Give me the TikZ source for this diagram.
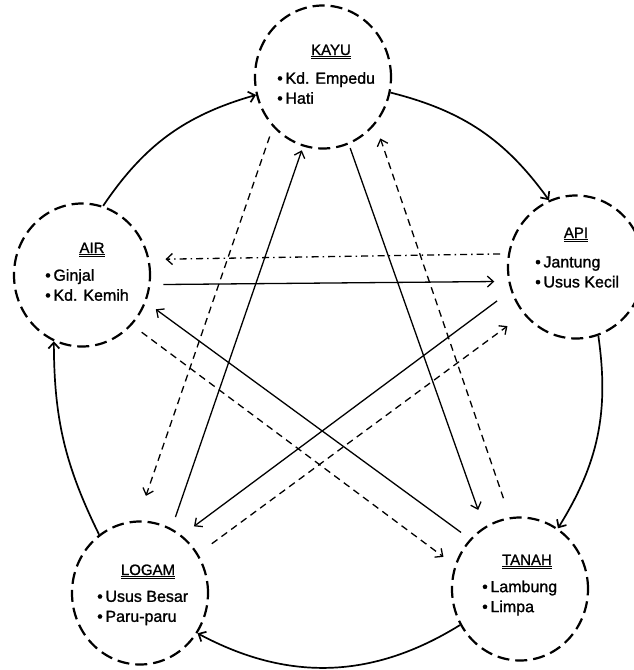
\documentclass[tikz,border=0pt]{standalone}
\usepackage{fontspec}
\setmainfont{Liberation Sans}
\newfontfamily\scanfont[FakeBold=1.2]{Liberation Sans}
\usetikzlibrary{arrows.meta,shapes.geometric}
\begin{document}
\begin{tikzpicture}[x=1pt,y=-1pt,
  elem/.style={draw, ellipse, minimum width=136pt, minimum height=143pt, inner sep=0pt, line width=2.2pt, dash pattern=on 12pt off 6pt},
  head/.style={anchor=base, font=\scanfont\fontsize{15}{18}\selectfont, inner sep=0pt},
  items/.style={anchor=west, align=left, font=\scanfont\fontsize{16}{20}\selectfont, inner sep=0pt},
  link/.style={line width=1.3pt, -{Straight Barb[length=6pt,width=11pt]}},
  cyc/.style={link, line width=1.7pt},
  ctrl/.style={link, dash pattern=on 7pt off 5pt},
  ctrldot/.style={link, dash pattern=on 7pt off 4pt on 1.5pt off 4pt},
]
\useasboundingbox (0,0) rectangle (633,670);
\fill[white] (0,0) rectangle (633,670);

% elements
\node[elem] (kayu)  at (323,77)  {};
\node[elem] (air)   at (82,275)  {};
\node[elem] (api)   at (576,267) {};
\node[elem] (logam) at (140,593) {};
\node[elem] (tanah) at (520,589) {};

% headings
\node[head] (kayu-h)  at (331,55)  {\underline{\underline{KAYU}}};
\node[head] (air-h)   at (92,253)  {\underline{\underline{AIR}}};
\node[head] (api-h)   at (576,238) {\underline{\underline{API}}};
\node[head] (logam-h) at (148,575) {\underline{\underline{LOGAM}}};
\node[head] (tanah-h) at (527,565) {\underline{\underline{TANAH}}};

% organ lists
\node[items] (kayu-l)  at (277,88)  {\textbullet\,Kd. Empedu\\\textbullet\,Hati};
\node[items] (air-l)   at (45,285)  {\textbullet\,Ginjal\\\textbullet\,Kd. Kemih};
\node[items] (api-l)   at (535,272) {\textbullet\,Jantung\\\textbullet\,Usus Kecil};
\node[items] (logam-l) at (97,608)  {\textbullet\,Usus Besar\\\textbullet\,Paru-paru};
\node[items] (tanah-l) at (482,598) {\textbullet\,Lambung\\\textbullet\,Limpa};

% outer cycle
\draw[cyc] (air.73)    to[bend left=20] (kayu.195);
\draw[cyc] (kayu.347)  to[bend left=20] (api.112);
\draw[cyc] (api.288)   to[bend left=20] (tanah.58);
\draw[cyc] (tanah.211) to[bend left=30] (logam.325);
\draw[cyc] (logam.125) to[bend left=13] (air.247);

% solid star
\draw[link, shorten <=13pt, shorten >=14pt] (air.-8)    -- (api.192);
\draw[link, shorten <=17pt, shorten >=15pt] (api.200)   -- (logam.54);
\draw[link, shorten <=12pt, shorten >=4pt]  (logam.64)  -- (kayu.254);
\draw[link, shorten <=4pt,  shorten >=18pt] (kayu.291)  -- (tanah.120);
\draw[link, shorten <=11pt, shorten >=12pt] (tanah.135) -- (air.-23);

% dashed star
\draw[ctrldot, shorten <=8pt,  shorten >=16pt] (api.169)   -- (air.13);
\draw[ctrl,    shorten <=10pt, shorten >=26pt] (kayu.225)  -- (logam.92);
\draw[ctrl,    shorten <=20pt, shorten >=15pt] (tanah.98)  -- (kayu.318);
\draw[ctrl,    shorten <=12pt, shorten >=14pt] (air.-45)   -- (tanah.160);
\draw[ctrl,    shorten <=17pt, shorten >=20pt] (logam.34)  -- (api.222);
\end{tikzpicture}
\end{document}
